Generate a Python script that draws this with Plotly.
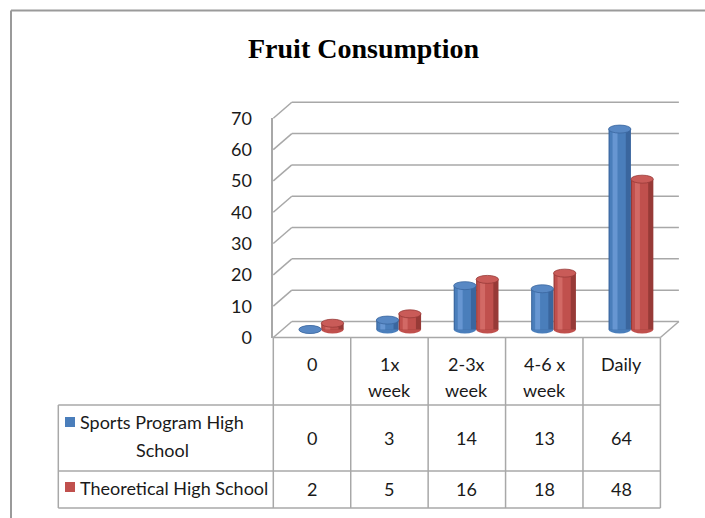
import plotly.graph_objects as go

# ---------------- data ----------------
categories = ["0", "1x<br>week", "2-3x<br>week", "4-6 x<br>week", "Daily"]
series_names = ["Sports Program High School", "Theoretical High School"]
series_labels = ["Sports Program High<br>School", "Theoretical High School"]
sports = [0, 3, 14, 13, 64]
theoretical = [2, 5, 16, 18, 48]
y_ticks = [0, 10, 20, 30, 40, 50, 60, 70]
title_text = "Fruit Consumption"

# ---------------- geometry / style ----------------
W, H = 705, 518
FX0, FX1 = 273.3, 660.4          # front plane left/right (px)
FY0 = 337.5                      # front plane value 0 (px)
K = (337.5 - 118.3) / 70.0       # px per unit
DX, DY = 18.5, -16.0             # depth offset of back wall (px)
GRID = "#a8a8a8"
TXT = "#1a1a1a"
FONT = "Lato"

def pxx(x):
    return x / W

def pyy(y):
    return 1 - y / H

def xdom(sx):
    return [pxx(FX0 + sx), pxx(FX1 + sx)]

def ydom(sy, r0, r1):
    return [pyy(FY0 + sy - r0 * K), pyy(FY0 + sy - r1 * K)]

series_vals = [sports, theoretical]
colors = [
    dict(dark="#3a669e", main="#4a7ebb", hi="#6796d2", cap="#5888c4"),
    dict(dark="#973a37", main="#c0504d", hi="#d26965", cap="#c95b58"),
]
BW = 22.4 / ((FX1 - FX0) / 5)    # bar width in category units
offsets = [-BW, 0.0]
CAPH = 4.0 / K

fig = go.Figure()
xs = list(range(len(categories)))
shapes = []

def gline(x0, y0, x1, y1, color=GRID, width=1.5):
    shapes.append(dict(type="line", xref="paper", yref="paper", layer="below",
                       x0=pxx(x0), y0=pyy(y0), x1=pxx(x1), y1=pyy(y1),
                       line=dict(color=color, width=width)))

# back-wall gridlines and side-wall diagonals (at each y tick)
for v in y_ticks:
    yb = FY0 + DY - v * K
    gline(FX0 + DX, yb, FX1 + DX, yb)
    gline(FX0, FY0 - v * K, FX0 + DX, yb)
# floor right diagonal and front edge
gline(FX1, FY0, FX1 + DX, FY0 + DY)
gline(FX0, FY0, FX1, FY0)

for s, (vals, col, off) in enumerate(zip(series_vals, colors, offsets)):
    common = dict(x=xs, y=vals, xaxis="x2", yaxis="y2", showlegend=False,
                  hoverinfo="skip", marker_line_width=0)
    fig.add_trace(go.Bar(name=series_names[s], marker_color=col["dark"],
                         offset=off, width=BW, **common))
    fig.add_trace(go.Bar(marker_color=col["main"], offset=off + 0.05 * BW,
                         width=0.72 * BW, **common))
    fig.add_trace(go.Bar(marker_color=col["hi"], offset=off + 0.18 * BW,
                         width=0.22 * BW, **common))
    for i, v in zip(xs, vals):
        shapes.append(dict(type="circle", xref="x2", yref="y2", layer="below",
                           x0=i + off, x1=i + off + BW, y0=-CAPH, y1=CAPH,
                           fillcolor=col["main"], line=dict(width=0)))
        shapes.append(dict(type="circle", xref="x2", yref="y2", layer="above",
                           x0=i + off, x1=i + off + BW, y0=v - CAPH, y1=v + CAPH,
                           fillcolor=col["cap"], line=dict(color=col["dark"], width=0.8)))

# ---------------- data table ----------------
T_LEFT = 58.3
ROW_Y = [405, 471, 508]
col_w = (FX1 - FX0) / len(categories)
for i in range(len(categories) + 1):
    xx = FX0 + i * col_w
    gline(xx, FY0, xx, ROW_Y[-1])
gline(T_LEFT, ROW_Y[0], T_LEFT, ROW_Y[-1])
for yy in ROW_Y:
    gline(T_LEFT, yy, FX1, yy)

for s, yc in enumerate([422, 487]):
    shapes.append(dict(type="rect", xref="paper", yref="paper",
                       x0=pxx(65), x1=pxx(75), y0=pyy(yc - 5), y1=pyy(yc + 5),
                       fillcolor=colors[s]["main"], line=dict(width=0)))

# chart border
shapes.append(dict(type="line", xref="paper", yref="paper",
                   x0=pxx(11), x1=1, y0=pyy(10.5), y1=pyy(10.5),
                   line=dict(color="#9a9a9a", width=2)))
shapes.append(dict(type="line", xref="paper", yref="paper",
                   x0=pxx(11), x1=pxx(11), y0=pyy(10.5), y1=0,
                   line=dict(color="#9a9a9a", width=2)))

annotations = []
tf = dict(family=FONT, size=18, color=TXT)
for i, c in enumerate(categories):
    for j, ln in enumerate(c.split("<br>")):
        annotations.append(dict(text=ln, xref="x", yref="paper", x=i,
                                y=pyy(364 + 26 * j), showarrow=False,
                                xanchor="center", yanchor="middle", font=tf))
for s, (vals, yc) in enumerate(zip(series_vals, [438, 489])):
    for i, v in enumerate(vals):
        annotations.append(dict(text=str(v), xref="x", yref="paper", x=i,
                                y=pyy(yc), showarrow=False,
                                xanchor="center", yanchor="middle", font=tf))
for j, ln in enumerate(series_labels[0].split("<br>")):
    annotations.append(dict(text=ln, xref="paper", yref="paper", x=pxx(162),
                            y=pyy(422 + 28 * j), showarrow=False,
                            xanchor="center", yanchor="middle", font=tf))
annotations.append(dict(text=series_labels[1], xref="paper", yref="paper", x=pxx(174),
                        y=pyy(488), showarrow=False,
                        xanchor="center", yanchor="middle", font=tf))
annotations.append(dict(text="<b>" + title_text + "</b>", xref="paper", yref="paper",
                        x=pxx(363), y=pyy(48), showarrow=False,
                        xanchor="center", yanchor="middle",
                        font=dict(family="Liberation Serif", size=28, color="#000000")))

hidden_x = dict(visible=False, range=[-0.5, len(categories) - 0.5],
                fixedrange=True, automargin=False)

fig.update_layout(
    width=W, height=H,
    margin=dict(l=0, r=0, t=0, b=0, pad=0, autoexpand=False),
    paper_bgcolor="white", plot_bgcolor="rgba(0,0,0,0)",
    barmode="overlay", showlegend=False,
    # front plane (tick labels)
    xaxis=dict(hidden_x, domain=xdom(0), anchor="y"),
    yaxis=dict(domain=ydom(0, 0, 70), range=[0, 70], anchor="x",
               tickvals=y_ticks, showgrid=False, zeroline=False,
               showline=True, linecolor=GRID, linewidth=1.5, ticks="",
               ticklabelstandoff=16, automargin=False,
               tickfont=dict(family=FONT, size=18, color=TXT)),
    # bar plane (mid depth)
    xaxis2=dict(hidden_x, domain=xdom(DX / 2), anchor="y2"),
    yaxis2=dict(domain=ydom(DY / 2, -3, 72), range=[-3, 72], anchor="x2",
                visible=False, automargin=False),
    shapes=shapes,
    annotations=annotations,
)

fig.write_html("out.html", config={"displayModeBar": False},
               post_script="document.body.style.margin='0';")
